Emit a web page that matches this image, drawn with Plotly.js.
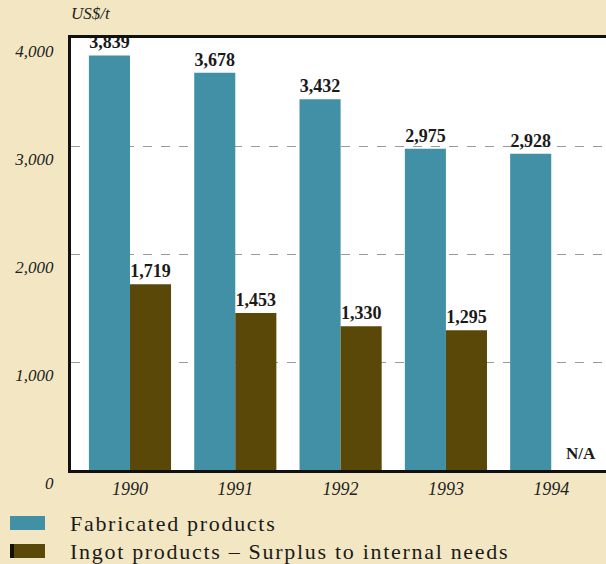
<!DOCTYPE html>
<html><head><meta charset="utf-8">
<script src="https://cdn.plot.ly/plotly-3.0.1.min.js"></script>
<style>html,body{margin:0;padding:0;background:#f3e7c3;}</style>
</head><body>
<div id="chart" style="width:606px;height:564px;"></div>
<script>
const years = ['1990','1991','1992','1993','1994'];
const fabricated = [3839, 3678, 3432, 2975, 2928];
const ingot = [1719, 1453, 1330, 1295, null];
const yTicks = [0, 1000, 2000, 3000, 4000];
const yTickText = ['0', '1,000', '2,000', '3,000', '4,000'];
const legendNames = ['Fabricated products', 'Ingot products \u2013 Surplus to internal needs'];
const colors = ['#4290a6', '#5a4808'];

const W = 606, H = 564, ML = 71, MR = 0, MT = 38, MB = 94;
const PW = W - ML - MR, PH = H - MT - MB;
const px2x = p => (p - ML) / PW;
const py2y = p => (H - MB - p) / PH;

const labelFont = {family: 'Liberation Serif, serif', size: 18, color: '#1a1a1a', weight: 'bold'};
const traces = [
  {type: 'bar', x: years, y: fabricated, name: legendNames[0], marker: {color: colors[0]},
   text: fabricated.map(v => v.toLocaleString('en-US')), textposition: 'outside',
   textfont: labelFont, cliponaxis: false, constraintext: 'none', hoverinfo: 'none'},
  {type: 'bar', x: years, y: ingot, name: legendNames[1], marker: {color: colors[1]},
   text: ingot.map(v => v == null ? '' : v.toLocaleString('en-US')), textposition: 'outside',
   textfont: labelFont, cliponaxis: false, constraintext: 'none', hoverinfo: 'none'}
];

const shapes = [];
const annotations = [
  {text: '<i>US$/t</i>', xref: 'paper', yref: 'paper', x: px2x(69), y: py2y(14), xanchor: 'left', yanchor: 'middle',
   showarrow: false, font: {family: 'Liberation Serif, serif', size: 17, color: '#222'}},
  {text: '<b>N/A</b>', xref: 'x', yref: 'paper', x: 4.12, y: py2y(453), xanchor: 'left', yanchor: 'middle',
   showarrow: false, font: {family: 'Liberation Serif, serif', size: 17, color: '#1a1a1a'}}
];
const legendY = [523, 551];
legendNames.forEach((n, i) => {
  shapes.push({type: 'rect', xref: 'paper', yref: 'paper', x0: px2x(10), x1: px2x(45),
    y0: py2y(legendY[i] + 7), y1: py2y(legendY[i] - 7),
    fillcolor: colors[i], line: {width: 0}});
  annotations.push({text: '<span style="letter-spacing:1.7px">' + n + '</span>', xref: 'paper', yref: 'paper', x: px2x(68),
    y: py2y(legendY[i]), xanchor: 'left', yanchor: 'middle', showarrow: false,
    font: {family: 'Liberation Serif, serif', size: 22, color: '#1a1a1a'}});
});
shapes.push({type: 'rect', xref: 'paper', yref: 'paper', x0: px2x(10), x1: px2x(14),
  y0: shapes[1].y0, y1: shapes[1].y1, fillcolor: '#15110a', line: {width: 0}});

const layout = {
  width: W, height: H,
  margin: {l: ML, r: MR, t: MT, b: MB},
  paper_bgcolor: '#f3e7c3', plot_bgcolor: '#ffffff',
  barmode: 'group', bargap: 0.22, bargroupgap: 0,
  showlegend: false,
  font: {family: 'Liberation Serif, serif'},
  xaxis: {type: 'category', range: [-0.56, 4.52], showline: true, linecolor: '#111', linewidth: 3,
    mirror: true, ticks: '', showgrid: false, tickfont: {family: 'Liberation Serif, serif', size: 18, color: '#222', style: 'italic'},
    ticklabelstandoff: 0},
  yaxis: {range: [0, 4000], tickvals: yTicks, ticktext: yTickText, showline: true, linecolor: '#111', linewidth: 3,
    ticks: '', showgrid: true, gridcolor: '#9a9a9a', griddash: 'dash', gridwidth: 1, zeroline: false,
    tickfont: {family: 'Liberation Serif, serif', size: 17, color: '#222', style: 'italic'},
    ticklabelshift: 13, ticklabelstandoff: 11},
  shapes: shapes, annotations: annotations
};
Plotly.newPlot('chart', traces, layout, {displayModeBar: false, staticPlot: true});
</script>
</body></html>
